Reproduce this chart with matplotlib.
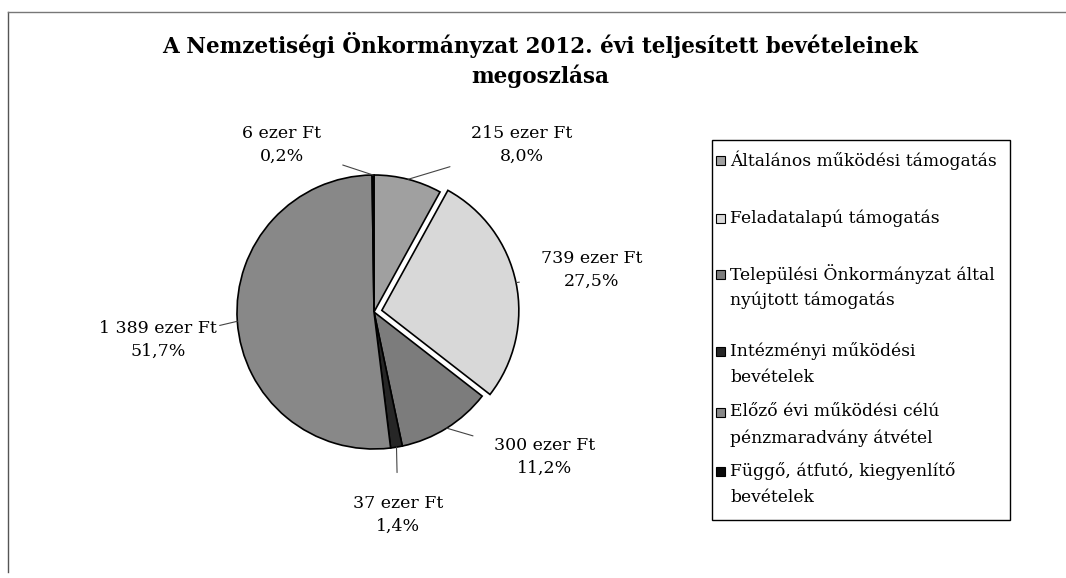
import numpy as np
import matplotlib.pyplot as plt
from matplotlib.lines import Line2D
from matplotlib.patches import Rectangle

# --- data ---
categories = [
    "Általános működési támogatás",
    "Feladatalapú támogatás",
    "Települési Önkormányzat által\nnyújtott támogatás",
    "Intézményi működési\nbevételek",
    "Előző évi működési célú\npénzmaradvány átvétel",
    "Függő, átfutó, kiegyenlítő\nbevételek",
]
values = [215, 739, 300, 37, 1389, 6]
amount_labels = ["215 ezer Ft", "739 ezer Ft", "300 ezer Ft", "37 ezer Ft", "1 389 ezer Ft", "6 ezer Ft"]
pct_labels = ["8,0%", "27,5%", "11,2%", "1,4%", "51,7%", "0,2%"]

colors = ["#a0a0a0", "#d8d8d8", "#7c7c7c", "#262626", "#888888", "#0a0a0a"]
explode = [0, 8, 0, 0, 0, 0]   # pixel offset (pie drawn in pixel units)

# label positions (pixels, origin bottom-left) - layout only
label_pos = [(522, 433), (592, 308), (545, 121), (398, 63), (158, 238), (282, 433)]
# legend rows: y of first text line (pixels from top)
legend_rows = [160, 218, 274, 351, 412, 471]

plt.rcParams['font.family'] = ['DejaVu Serif']

W, H = 1066, 578
fig = plt.figure(figsize=(W / 100, H / 100), dpi=100)
ax = fig.add_axes([0, 0, 1, 1])

cx, cy, r = 374, H - 312, 137
wedges, _ = ax.pie(values, colors=colors, startangle=90, counterclock=False,
                   explode=explode, center=(cx, cy), radius=r, frame=True,
                   wedgeprops=dict(edgecolor='black', linewidth=1.2))
ax.set_xlim(0, W)
ax.set_ylim(0, H)
ax.axis('off')

# labels with leader lines
for w, amt, pct, (lx, ly) in zip(wedges, amount_labels, pct_labels, label_pos):
    ang = np.deg2rad((w.theta1 + w.theta2) / 2)
    wx, wy = w.center
    px, py = wx + r * np.cos(ang), wy + r * np.sin(ang)
    ax.annotate(f"{amt}\n{pct}", xy=(px, py), xytext=(lx, ly),
                ha='center', va='center', fontsize=12.5, linespacing=1.5,
                arrowprops=dict(arrowstyle='-', color='#444444', lw=0.8,
                                shrinkA=14, shrinkB=0))

ax.text(540, H - 45, "A Nemzetiségi Önkormányzat 2012. évi teljesített bevételeinek",
        ha='center', va='center', fontsize=15.5, fontweight='bold')
ax.text(540, H - 76, "megoszlása", ha='center', va='center', fontsize=15.5, fontweight='bold')

# legend (drawn by hand to match the uneven row spacing)
ax.add_patch(Rectangle((712, H - 520), 298, 380, fill=False, edgecolor='black', lw=1.0))
for cat, col, y0 in zip(categories, colors, legend_rows):
    ax.add_patch(Rectangle((716, H - y0 - 5), 9, 9, facecolor=col, edgecolor='black', lw=0.8))
    for i, line in enumerate(cat.split("\n")):
        ax.text(730, H - y0 - i * 26, line, ha='left', va='center', fontsize=12.3)

# outer frame lines
fig.add_artist(Line2D([8 / W, 8 / W], [1 - 12 / H, 0.01], color='#555555', lw=1.0))
fig.add_artist(Line2D([8 / W, 1.0], [1 - 12 / H, 1 - 12 / H], color='#777777', lw=1.0))

fig.savefig("out.png", dpi=100)
